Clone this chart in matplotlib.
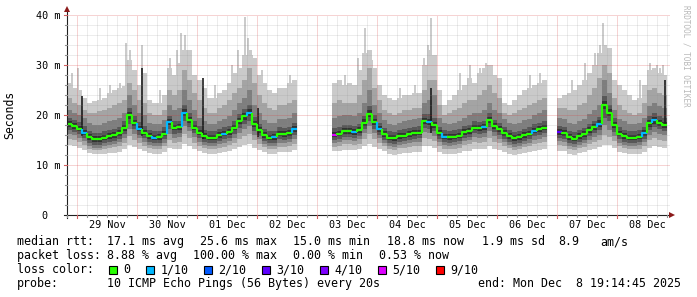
import numpy as np
import matplotlib
matplotlib.use("Agg")
import matplotlib.pyplot as plt

nan = np.nan

# ---------------- data (2-hour slots, slot k starts k*2h after 29 Nov 00:00) -------------
slot_first = -2
slot_hours = 2

median_ms = [
    18.2, 17.8, 17.3, 16.5, 15.6, 15.2, 15.2, 15.5, 15.8, 16.0, 16.4, 17.5,
    20.0, 18.5, 17.3, 16.5, 15.8, 15.5, 15.6, 16.3, 18.6, 17.5,
    17.6, 20.5, 19.0, 17.5, 16.5, 15.8, 15.5, 15.5, 16.0, 16.3,
    16.6, 17.5, 18.8, 19.8, 20.5, 18.2, 17.0, 16.0, 15.5, 15.6,
    16.3, 16.2, 16.4, 17.2, nan, nan, nan, nan, nan, nan,
    nan, 16.1, 16.3, 16.8, 16.8, 16.6, 17.0, 18.5, 20.3, 18.6,
    17.2, 16.2, 15.5, 15.4, 15.8, 15.9, 16.2, 16.4, 16.5, 18.8,
    18.6, 18.0, 16.4, 15.7, 15.6, 15.7, 15.9, 16.6, 16.8, 17.5,
    17.4, 17.6, 19.0, 17.8, 17.2, 16.4, 15.8, 15.4, 15.6, 16.0,
    16.3, 16.9, 17.2, 17.5, nan, nan, 16.6, 16.4, 15.6, 15.3,
    15.8, 16.2, 17.0, 17.6, 18.3, 22.0, 20.5, 18.0, 16.3, 15.8,
    15.5, 15.5, 15.7, 16.4, 18.4, 19.0, 18.5, 18.0,
]

# sorted ping values (smoke): p1 = fastest ... p10 = slowest
p10 = [
    26.5, 25.5, 25.0, 23.5, 22.5, 22.8, 23.0, 23.5, 24.5, 25.0, 25.5, 25.8,
    31.0, 29.0, 26.0, 28.5, 23.0, 22.5, 22.5, 24.0, 29.5, 28.0,
    30.5, 33.0, 33.0, 28.0, 27.0, 25.5, 23.5, 23.5, 24.5, 25.0,
    26.5, 28.5, 29.5, 32.0, 33.0, 31.5, 28.0, 26.5, 25.0, 24.5,
    25.5, 25.5, 26.5, 27.0, nan, nan, nan, nan, nan, nan,
    nan, 26.5, 27.0, 26.0, 26.5, 26.0, 29.0, 32.5, 33.0, 29.5,
    26.0, 24.0, 23.5, 23.0, 23.5, 24.0, 24.0, 24.5, 24.5, 30.0,
    33.0, 32.0, 25.0, 22.0, 23.0, 24.0, 25.0, 26.0, 27.5, 26.5,
    28.5, 29.5, 30.0, 28.0, 27.5, 22.5, 22.0, 23.0, 24.0, 25.0,
    25.5, 26.0, 26.5, 27.0, nan, nan, 23.5, 24.0, 24.5, 25.0,
    26.0, 27.0, 28.5, 30.0, 32.5, 34.0, 33.5, 27.0, 26.0, 25.0,
    24.0, 23.0, 23.5, 26.0, 29.0, 29.5, 28.5, 28.0,
]
p9 = [
    23.5, 22.5, 22.0, 21.0, 20.5, 20.5, 20.8, 21.0, 21.5, 22.0, 22.5, 23.0,
    26.5, 25.0, 23.0, 22.5, 20.5, 20.0, 20.0, 21.0, 25.0, 24.0,
    25.0, 29.0, 27.0, 24.5, 23.0, 21.5, 20.5, 20.5, 21.5, 22.0,
    23.0, 24.5, 25.5, 27.0, 29.5, 26.5, 24.0, 22.5, 21.5, 21.0,
    22.0, 22.0, 22.5, 23.0, nan, nan, nan, nan, nan, nan,
    nan, 22.5, 23.0, 22.5, 22.5, 22.5, 24.0, 27.0, 29.5, 25.5,
    23.0, 21.0, 20.5, 20.0, 20.5, 21.0, 21.0, 21.5, 21.5, 25.0,
    27.0, 27.0, 22.0, 20.0, 20.5, 21.0, 21.5, 22.5, 23.0, 23.0,
    24.0, 25.0, 26.0, 24.5, 23.5, 20.5, 20.0, 20.5, 21.0, 21.5,
    22.0, 22.5, 23.0, 23.5, nan, nan, 21.5, 21.5, 21.0, 21.0,
    22.0, 22.5, 24.0, 25.5, 27.5, 30.0, 28.5, 23.5, 22.0, 21.0,
    20.5, 20.0, 20.5, 22.5, 25.0, 25.5, 24.5, 24.0,
]
p8 = [
    21.0, 20.5, 20.0, 19.5, 18.5, 18.0, 18.0, 18.5, 18.8, 19.0, 19.5, 20.5,
    24.0, 22.0, 20.5, 20.0, 18.5, 18.3, 18.3, 19.0, 22.0, 21.0,
    21.5, 25.0, 23.0, 21.0, 19.5, 18.8, 18.3, 18.3, 18.8, 19.3,
    19.8, 21.0, 22.5, 23.5, 25.0, 22.0, 20.5, 19.0, 18.5, 18.5,
    19.3, 19.3, 19.5, 20.5, nan, nan, nan, nan, nan, nan,
    nan, 19.5, 19.8, 20.0, 20.0, 19.8, 20.5, 22.5, 25.0, 22.0,
    20.5, 19.0, 18.3, 18.0, 18.5, 18.8, 19.0, 19.3, 19.5, 22.5,
    23.0, 24.0, 19.5, 18.5, 18.3, 18.5, 18.8, 19.5, 20.0, 20.5,
    20.5, 21.0, 22.5, 21.0, 20.5, 19.3, 18.5, 18.2, 18.5, 19.0,
    19.3, 20.0, 20.5, 21.0, nan, nan, 19.5, 19.3, 18.5, 18.2,
    18.8, 19.3, 20.3, 21.0, 22.0, 27.0, 24.5, 21.0, 19.3, 18.8,
    18.3, 18.3, 18.5, 19.5, 21.8, 22.5, 21.8, 21.5,
]
p7 = [
    19.5, 19.0, 18.6, 17.8, 16.9, 16.5, 16.5, 16.8, 17.1, 17.3, 17.7, 18.8,
    21.5, 19.8, 18.6, 17.8, 17.1, 16.8, 16.9, 17.6, 19.9, 18.8,
    18.9, 22.0, 20.4, 18.8, 17.8, 17.1, 16.8, 16.8, 17.3, 17.6,
    17.9, 18.8, 20.2, 21.2, 22.0, 19.6, 18.3, 17.3, 16.8, 16.9,
    17.6, 17.5, 17.7, 18.5, nan, nan, nan, nan, nan, nan,
    nan, 17.4, 17.6, 18.1, 18.1, 17.9, 18.3, 19.9, 21.8, 20.0,
    18.5, 17.5, 16.8, 16.7, 17.1, 17.2, 17.5, 17.7, 17.8, 20.3,
    20.2, 19.5, 17.7, 17.0, 16.9, 17.0, 17.2, 17.9, 18.1, 18.8,
    18.7, 18.9, 20.4, 19.1, 18.5, 17.7, 17.1, 16.7, 16.9, 17.3,
    17.6, 18.2, 18.5, 18.8, nan, nan, 17.9, 17.7, 16.9, 16.6,
    17.1, 17.5, 18.3, 18.9, 19.7, 23.8, 22.0, 19.4, 17.6, 17.1,
    16.8, 16.8, 17.0, 17.7, 19.8, 20.4, 19.8, 19.4,
]
p6 = [
    18.8, 18.4, 17.9, 17.1, 16.2, 15.8, 15.8, 16.1, 16.4, 16.6, 17.0, 18.1,
    20.7, 19.1, 17.9, 17.1, 16.4, 16.1, 16.2, 16.9, 19.2, 18.1,
    18.2, 21.2, 19.7, 18.1, 17.1, 16.4, 16.1, 16.1, 16.6, 16.9,
    17.2, 18.1, 19.5, 20.5, 21.2, 18.9, 17.6, 16.6, 16.1, 16.2,
    16.9, 16.8, 17.0, 17.8, nan, nan, nan, nan, nan, nan,
    nan, 16.7, 16.9, 17.4, 17.4, 17.2, 17.6, 19.2, 21.0, 19.3,
    17.8, 16.8, 16.1, 16.0, 16.4, 16.5, 16.8, 17.0, 17.1, 19.5,
    19.3, 18.7, 17.0, 16.3, 16.2, 16.3, 16.5, 17.2, 17.4, 18.1,
    18.0, 18.2, 19.7, 18.4, 17.8, 17.0, 16.4, 16.0, 16.2, 16.6,
    16.9, 17.5, 17.8, 18.1, nan, nan, 17.2, 17.0, 16.2, 15.9,
    16.4, 16.8, 17.6, 18.2, 19.0, 22.9, 21.2, 18.7, 16.9, 16.4,
    16.1, 16.1, 16.3, 17.0, 19.1, 19.7, 19.1, 18.7,
]
p5 = [
    17.7, 17.3, 16.8, 16.0, 15.1, 14.7, 14.7, 15.0, 15.3, 15.5, 15.9, 16.9,
    19.2, 17.9, 16.8, 16.0, 15.3, 15.0, 15.1, 15.8, 18.0, 17.0,
    17.1, 19.8, 18.4, 17.0, 16.0, 15.3, 15.0, 15.0, 15.5, 15.8,
    16.1, 17.0, 18.2, 19.1, 19.8, 17.6, 16.5, 15.5, 15.0, 15.1,
    15.8, 15.7, 15.9, 16.6, nan, nan, nan, nan, nan, nan,
    nan, 15.6, 15.8, 16.3, 16.3, 16.1, 16.5, 17.9, 19.6, 18.0,
    16.7, 15.7, 15.0, 14.9, 15.3, 15.4, 15.7, 15.9, 16.0, 18.2,
    18.0, 17.4, 15.9, 15.2, 15.1, 15.2, 15.4, 16.1, 16.3, 17.0,
    16.9, 17.1, 18.4, 17.3, 16.7, 15.9, 15.3, 14.9, 15.1, 15.5,
    15.8, 16.4, 16.7, 17.0, nan, nan, 16.1, 15.9, 15.1, 14.8,
    15.3, 15.7, 16.5, 17.1, 17.7, 21.2, 19.8, 17.4, 15.8, 15.3,
    15.0, 15.0, 15.2, 15.9, 17.7, 18.3, 17.9, 17.4,
]
p4 = [
    17.0, 16.7, 16.2, 15.4, 14.5, 14.1, 14.1, 14.4, 14.7, 14.9, 15.3, 16.3,
    18.3, 17.2, 16.1, 15.4, 14.7, 14.4, 14.5, 15.2, 17.2, 16.3,
    16.5, 18.9, 17.7, 16.4, 15.4, 14.7, 14.4, 14.4, 14.9, 15.2,
    15.5, 16.3, 17.4, 18.3, 18.9, 16.9, 15.9, 14.9, 14.4, 14.5,
    15.2, 15.1, 15.3, 16.0, nan, nan, nan, nan, nan, nan,
    nan, 15.0, 15.2, 15.7, 15.7, 15.5, 15.9, 17.2, 18.8, 17.3,
    16.1, 15.1, 14.4, 14.3, 14.7, 14.8, 15.1, 15.3, 15.4, 17.5,
    17.3, 16.8, 15.3, 14.6, 14.5, 14.6, 14.8, 15.5, 15.7, 16.4,
    16.3, 16.5, 17.7, 16.6, 16.1, 15.3, 14.7, 14.3, 14.5, 14.9,
    15.2, 15.8, 16.1, 16.4, nan, nan, 15.5, 15.3, 14.5, 14.2,
    14.7, 15.1, 15.9, 16.4, 17.0, 19.5, 18.9, 16.7, 15.2, 14.7,
    14.4, 14.4, 14.6, 15.3, 17.0, 17.6, 17.2, 16.8,
]
p3 = [
    16.3, 16.0, 15.5, 14.8, 13.9, 13.5, 13.5, 13.8, 14.1, 14.3, 14.6, 15.5,
    17.3, 16.3, 15.4, 14.7, 14.1, 13.8, 13.9, 14.5, 16.3, 15.5,
    15.7, 17.8, 16.8, 15.6, 14.7, 14.1, 13.8, 13.8, 14.3, 14.5,
    14.8, 15.5, 16.5, 17.3, 17.8, 16.1, 15.2, 14.3, 13.8, 13.9,
    14.5, 14.4, 14.6, 15.3, nan, nan, nan, nan, nan, nan,
    nan, 14.4, 14.6, 15.0, 15.0, 14.8, 15.2, 16.4, 17.8, 16.4,
    15.4, 14.5, 13.8, 13.7, 14.1, 14.2, 14.4, 14.6, 14.7, 16.6,
    16.4, 15.9, 14.6, 14.0, 13.9, 14.0, 14.2, 14.8, 15.0, 15.6,
    15.5, 15.7, 16.8, 15.8, 15.3, 14.6, 14.1, 13.7, 13.9, 14.3,
    14.5, 15.1, 15.3, 15.6, nan, nan, 14.8, 14.6, 13.9, 13.6,
    14.1, 14.4, 15.1, 15.6, 16.1, 18.0, 17.0, 15.9, 14.5, 14.1,
    13.8, 13.8, 14.0, 14.6, 16.1, 16.7, 16.3, 16.0,
]
p2 = [
    15.3, 15.0, 14.6, 14.0, 13.3, 13.0, 13.0, 13.2, 13.4, 13.6, 13.8, 14.5,
    15.8, 15.0, 14.4, 13.8, 13.4, 13.2, 13.3, 13.8, 15.0, 14.5,
    14.6, 16.3, 15.5, 14.5, 13.9, 13.4, 13.2, 13.2, 13.5, 13.7,
    14.0, 14.5, 15.3, 15.9, 16.3, 15.0, 14.3, 13.6, 13.2, 13.2,
    13.7, 13.7, 13.8, 14.3, nan, nan, nan, nan, nan, nan,
    nan, 13.7, 13.9, 14.2, 14.2, 14.0, 14.3, 15.2, 16.3, 15.2,
    14.5, 13.8, 13.2, 13.1, 13.4, 13.5, 13.7, 13.8, 13.9, 15.4,
    15.3, 14.9, 13.8, 13.3, 13.3, 13.3, 13.5, 14.0, 14.2, 14.6,
    14.5, 14.7, 15.5, 14.7, 14.4, 13.8, 13.4, 13.1, 13.3, 13.6,
    13.8, 14.2, 14.4, 14.6, nan, nan, 14.0, 13.9, 13.3, 13.0,
    13.4, 13.7, 14.2, 14.6, 15.0, 16.0, 15.6, 14.8, 13.8, 13.4,
    13.2, 13.2, 13.3, 13.8, 15.0, 15.4, 15.1, 14.9,
]
p1 = [
    14.0, 13.8, 13.5, 13.0, 12.4, 12.2, 12.2, 12.3, 12.4, 12.5, 12.7, 13.2,
    14.0, 13.6, 13.2, 12.8, 12.4, 12.3, 12.3, 12.7, 13.5, 13.2,
    13.3, 14.2, 13.8, 13.2, 12.8, 12.4, 12.3, 12.3, 12.5, 12.6,
    12.8, 13.2, 13.6, 14.0, 14.2, 13.5, 13.0, 12.6, 12.3, 12.3,
    12.6, 12.6, 12.7, 13.0, nan, nan, nan, nan, nan, nan,
    nan, 12.8, 12.9, 13.1, 13.1, 13.0, 13.2, 13.8, 14.2, 13.6,
    13.2, 12.8, 12.3, 12.1, 12.3, 12.4, 12.5, 12.6, 12.7, 13.8,
    13.8, 13.5, 12.7, 12.3, 12.2, 12.2, 12.4, 12.8, 12.9, 13.2,
    13.2, 13.3, 13.8, 13.3, 13.1, 12.6, 12.3, 12.1, 12.2, 12.5,
    12.6, 12.9, 13.0, 13.2, nan, nan, 12.9, 12.8, 12.3, 12.1,
    12.4, 12.6, 13.0, 13.3, 13.6, 14.0, 14.0, 13.4, 12.7, 12.4,
    12.2, 12.2, 12.3, 12.7, 13.5, 13.8, 13.6, 13.4,
]

# lost pings (out of 10) per slot
loss = [
    0, 0, 0, 1, 0, 0, 0, 0, 0, 0,
    0, 0, 0, 0, 1, 0, 0, 1, 0, 0,
    1, 0, 0, 1, 0, 0, 0, 0, 0, 0,
    0, 1, 0, 0, 0, 0, 1, 0, 0, 0,
    0, 1, 0, 0, 0, 1, 0, 0, 0, 0,
    0, 0, 0, 5, 0, 0, 0, 1, 0, 0,
    0, 0, 1, 0, 0, 0, 0, 0, 0, 0,
    0, 0, 1, 0, 0, 1, 0, 0, 0, 0,
    0, 0, 0, 1, 0, 0, 0, 0, 0, 0,
    0, 0, 0, 1, 0, 0, 0, 0, 3, 0,
    0, 0, 0, 0, 0, 0, 1, 0, 0, 0,
    0, 0, 0, 0, 0, 1, 0, 1, 0, 0,
]

# isolated slow-ping outliers (day offset from 29 Nov 00:00, ms)
outlier_day = [-0.083, 0.017, 0.38, 0.55, 0.72, 0.82, 0.88, 1.08, 1.38, 1.55, 1.67,
               1.73, 1.80, 1.88, 2.30, 2.58, 2.68, 2.80, 2.85, 2.92, 3.08, 3.55,
               4.47, 4.68, 4.80, 4.92, 5.38, 5.63, 5.78, 5.85, 5.90, 6.38, 6.55,
               6.72, 6.82, 6.92, 7.55, 7.72, 8.25, 8.47, 8.63, 8.72, 8.77, 8.85,
               9.38, 9.55, 9.67, 9.72, 9.77]
outlier_ms = [28.5, 29.5, 25.5, 26.0, 26.5, 34.5, 33.0, 34.0, 25.0, 31.5, 33.0,
              36.5, 36.0, 30.0, 26.0, 30.0, 33.0, 39.7, 35.5, 32.0, 29.0, 28.0,
              28.0, 31.5, 37.5, 31.0, 25.5, 26.0, 31.5, 34.0, 39.5, 28.5, 30.0,
              29.5, 30.5, 30.0, 28.0, 28.5, 27.0, 30.5, 32.5, 34.0, 38.5, 33.0,
              27.0, 30.5, 30.0, 29.5, 30.0]

# dark spikes (day, low ms, high ms)
spike_day = [0.08, 1.075, 2.10, 3.02, 5.90, 9.80]
spike_lo = [15.8, 15.8, 15.2, 15.7, 16.5, 18.0]
spike_hi = [23.9, 29.4, 27.4, 21.4, 25.4, 27.0]

day_labels = ["29 Nov", "30 Nov", "01 Dec", "02 Dec", "03 Dec",
              "04 Dec", "05 Dec", "06 Dec", "07 Dec", "08 Dec"]
y_ticks = [0, 10, 20, 30, 40]

loss_levels = [0, 1, 2, 3, 4, 5, 9]
loss_names = ["0", "1/10", "2/10", "3/10", "4/10", "5/10", "9/10"]
loss_colors = {0: "#26ff00", 1: "#00b8ff", 2: "#0059ff", 3: "#5e00ff",
               4: "#7e00ff", 5: "#dd00ff", 9: "#ff0000"}

legend_rtt = [("median rtt:", 16.7), ("17.1 ms avg", 107.3), ("25.6 ms max", 200.0),
              ("15.0 ms min", 293.3), ("18.8 ms now", 386.7), ("1.9 ms sd", 482.0),
              ("8.9", 558.3), ("am/s", 600.0)]
legend_loss = [("packet loss:", 16.7), ("8.88 % avg", 107.3), ("100.00 % max", 193.3),
               ("0.00 % min", 293.3), ("0.53 % now", 379.3)]
probe_text = "10 ICMP Echo Pings (56 Bytes) every 20s"
end_text = "end: Mon Dec  8 19:14:45 2025"

# ---------------- figure ----------------
W, H = 697, 297
MONO = "DejaVu Sans Mono"
fig = plt.figure(figsize=(W / 100, H / 100), dpi=100)
fig.patch.set_facecolor("white")

X0, X1, Y0, Y1 = 67, 670, 215.3, 15.3   # pixel box of plot area
ax = fig.add_axes([X0 / W, 1 - Y0 / H, (X1 - X0) / W, (Y0 - Y1) / H])
day_px = 60.0
xmin = (X0 - 77) / day_px
xmax = (X1 - 77) / day_px
ax.set_xlim(xmin, xmax)
ax.set_ylim(0, 40)
ax.axis("off")


def fx(px):
    return px / W


def fy(py):
    return 1 - py / H


n = len(median_ms)
t = (np.arange(n) + slot_first) * slot_hours / 24.0
w = slot_hours / 24.0

# outliers below bands
ax.vlines(outlier_day, 15, outlier_ms, colors="#cacaca", linewidth=1.4, zorder=1)

layers = [(p1, p10, "#cacaca"), (p2, p9, "#a4a4a4"), (p3, p8, "#7e7e7e"),
          (p4, p7, "#585858"), (p5, p6, "#323232")]
for lo, hi, col in layers:
    lo = np.array(lo, float)
    hi = np.array(hi, float)
    ok = ~np.isnan(lo)
    ax.bar(t[ok], hi[ok] - lo[ok], bottom=lo[ok], width=w, align="edge",
           color=col, linewidth=0, antialiased=False, zorder=2)

ax.vlines(spike_day, spike_lo, spike_hi, colors="#1c1c1c", linewidth=1.2, zorder=3)

# grid
minor_c = (0.55, 0.55, 0.55, 0.32)
major_c = (0.85, 0.2, 0.2, 0.42)
dots = (0, (1, 1))
for j in range(-1, 60):
    d = j / 6.0
    if j % 6 == 0:
        continue
    ax.plot([d, d], [0, 40], ls=dots, lw=0.72, color=minor_c, zorder=5)
for d in range(0, 10):
    ax.plot([d, d], [0, 40], ls=dots, lw=0.72, color=major_c, zorder=5)
for v in range(2, 40, 2):
    if v % 10 == 0:
        continue
    ax.plot([xmin, xmax], [v, v], ls=dots, lw=0.72, color=minor_c, zorder=5)
for v in [10, 20, 30, 40]:
    ax.plot([xmin, xmax], [v, v], ls=dots, lw=0.72, color=major_c, zorder=5)

# median line coloured by loss
med = np.array(median_ms, float)
prev = None
for i in range(n):
    if np.isnan(med[i]):
        prev = None
        continue
    c = loss_colors[loss[i]]
    xs = [t[i], t[i] + w]
    ys = [med[i], med[i]]
    if prev is not None:
        xs = [t[i]] + xs
        ys = [prev] + ys
    ax.plot(xs, ys, color=c, lw=1.6, solid_capstyle="butt", zorder=6)
    prev = med[i]

# axes lines, ticks, arrows
px_ms = 40 / (Y0 - Y1)
ax.plot([(64 - 77) / day_px, xmax], [0, 0], color="#202020", lw=0.8, clip_on=False, zorder=7)
ax.plot([xmin, xmin], [-3 * px_ms, 41.0], color="#202020", lw=0.8, clip_on=False, zorder=7)
for j in range(-1, 60):
    d = j / 6.0
    if d < xmin:
        continue
    ln = 3 if j % 6 == 0 else 2
    col = "#d06060" if j % 6 == 0 else "#909090"
    ax.plot([d, d], [0, -ln * px_ms], color=col, lw=0.8, clip_on=False, zorder=7)
for v in range(2, 41, 2):
    ln = 3 if v % 10 == 0 else 2
    col = "#d06060" if v % 10 == 0 else "#909090"
    ax.plot([xmin - ln / day_px, xmin], [v, v], color=col, lw=0.8, clip_on=False, zorder=7)
ax.plot([(672 - 77) / day_px], [0], marker=">", ms=4.2, color="#8b1a1a", clip_on=False, zorder=8, mew=0)
ax.plot([xmin], [41.2], marker="^", ms=4.2, color="#8b1a1a", clip_on=False, zorder=8, mew=0)

# axis labels
for i, lab in enumerate(day_labels):
    fig.text(fx(77 + day_px * (i + 0.5)), fy(227.5), lab, ha="center", va="baseline",
             fontsize=7.3, family=MONO, color="black")
for v in y_ticks:
    ypx = Y0 - v / px_ms
    if v == 0:
        fig.text(fx(60 - 2 * 6.1), fy(ypx + 3.7), "0", ha="right", va="baseline",
                 fontsize=7.3, family=MONO)
    else:
        fig.text(fx(60), fy(ypx + 3.7), f"{v} m", ha="right", va="baseline",
                 fontsize=7.3, family=MONO)
fig.text(fx(10), fy(115), "Seconds", rotation=90, ha="center", va="center",
         fontsize=8.3, family=MONO)
fig.text(fx(686), fy(5), "RRDTOOL / TOBI OETIKER", rotation=270, ha="center", va="top",
         fontsize=5.5, family=MONO, color="#b8b8b8")

# legend
LS = 8.35
for txt, x in legend_rtt:
    fig.text(fx(x), fy(245.3), txt, ha="left", va="baseline", fontsize=LS, family=MONO)
for txt, x in legend_loss:
    fig.text(fx(x), fy(259.3), txt, ha="left", va="baseline", fontsize=LS, family=MONO)
fig.text(fx(16.7), fy(273.3), "loss color:", ha="left", va="baseline", fontsize=LS, family=MONO)
sq_x = [108.7, 145.7, 203.5, 261.5, 319.5, 377.5, 435.5]
for sx, lvl, name in zip(sq_x, loss_levels, loss_names):
    fig.patches.append(plt.Rectangle((fx(sx), fy(273.5)), 8 / W, 8 / H, transform=fig.transFigure,
                                     facecolor=loss_colors[lvl], edgecolor="black", linewidth=0.8))
    fig.text(fx(sx + 14.5), fy(273.3), name, ha="left", va="baseline", fontsize=LS, family=MONO)
fig.text(fx(16.7), fy(287.3), "probe:", ha="left", va="baseline", fontsize=LS, family=MONO)
fig.text(fx(107.3), fy(287.3), probe_text, ha="left", va="baseline", fontsize=LS, family=MONO)
fig.text(fx(680.5), fy(287.3), end_text, ha="right", va="baseline", fontsize=LS, family=MONO)

fig.savefig("out.png", dpi=100, facecolor="white")
